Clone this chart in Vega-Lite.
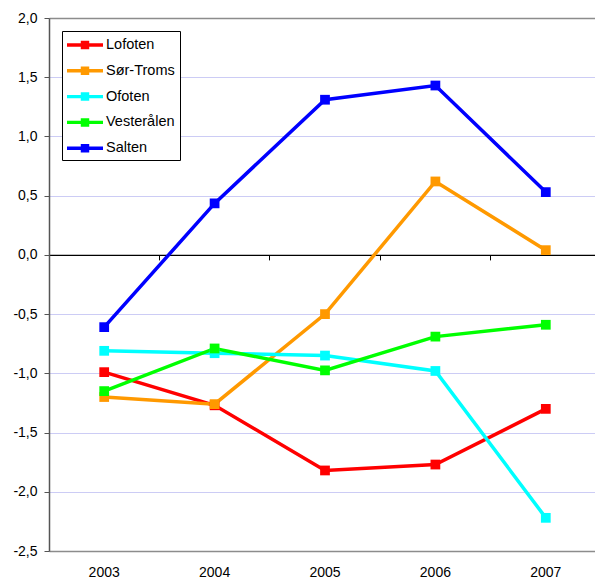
{
  "$schema": "https://vega.github.io/schema/vega-lite/v6.json",
  "width": 552,
  "height": 533,
  "autosize": {"type": "none"},
  "padding": {"left": 49, "top": 18, "right": 0, "bottom": 28},
  "background": "white",
  "config": {
    "font": "Liberation Sans",
    "view": {"stroke": null}
  },
  "data": {
    "values": [
      {"region": "Lofoten", "year": "2003", "value": -0.99},
      {"region": "Lofoten", "year": "2004", "value": -1.27},
      {"region": "Lofoten", "year": "2005", "value": -1.82},
      {"region": "Lofoten", "year": "2006", "value": -1.77},
      {"region": "Lofoten", "year": "2007", "value": -1.30},
      {"region": "Sør-Troms", "year": "2003", "value": -1.20},
      {"region": "Sør-Troms", "year": "2004", "value": -1.26},
      {"region": "Sør-Troms", "year": "2005", "value": -0.50},
      {"region": "Sør-Troms", "year": "2006", "value": 0.62},
      {"region": "Sør-Troms", "year": "2007", "value": 0.04},
      {"region": "Ofoten", "year": "2003", "value": -0.81},
      {"region": "Ofoten", "year": "2004", "value": -0.83},
      {"region": "Ofoten", "year": "2005", "value": -0.85},
      {"region": "Ofoten", "year": "2006", "value": -0.98},
      {"region": "Ofoten", "year": "2007", "value": -2.22},
      {"region": "Vesterålen", "year": "2003", "value": -1.15},
      {"region": "Vesterålen", "year": "2004", "value": -0.79},
      {"region": "Vesterålen", "year": "2005", "value": -0.975},
      {"region": "Vesterålen", "year": "2006", "value": -0.69},
      {"region": "Vesterålen", "year": "2007", "value": -0.59},
      {"region": "Salten", "year": "2003", "value": -0.61},
      {"region": "Salten", "year": "2004", "value": 0.435},
      {"region": "Salten", "year": "2005", "value": 1.31},
      {"region": "Salten", "year": "2006", "value": 1.43},
      {"region": "Salten", "year": "2007", "value": 0.53}
    ]
  },
  "resolve": {"axis": {"x": "independent"}},
  "layer": [
    {
      "mark": {"type": "point", "opacity": 0},
      "encoding": {
        "x": {
          "field": "year", "type": "ordinal",
          "scale": {"type": "band", "paddingInner": 0, "paddingOuter": 0},
          "axis": {
            "orient": "top", "title": null, "labels": false,
            "domain": true, "domainColor": "#8c8c8c", "domainWidth": 1.5,
            "ticks": false, "grid": false, "zindex": 0
          }
        },
        "y": {"field": "value", "type": "quantitative"}
      }
    },
    {
      "mark": {"type": "point", "opacity": 0},
      "encoding": {
        "x": {
          "field": "year", "type": "ordinal",
          "axis": {
            "orient": "bottom", "offset": -296.1, "title": null, "labels": false,
            "domain": true, "domainColor": "black", "domainWidth": 1.2,
            "ticks": true, "tickColor": "black", "tickSize": 5, "tickWidth": 1,
            "bandPosition": 0, "tickExtra": true, "grid": false, "zindex": 0
          }
        },
        "y": {"field": "value", "type": "quantitative"}
      }
    },
    {
      "mark": {
        "type": "line", "strokeWidth": 3.5,
        "point": {"shape": "square", "size": 95, "filled": true, "opacity": 1}
      },
      "encoding": {
        "x": {
          "field": "year", "type": "ordinal",
          "axis": {
            "orient": "bottom", "title": null, "domain": true, "domainColor": "#8c8c8c",
            "domainWidth": 1.5, "ticks": false,
            "grid": false, "labelAngle": 0, "labelFontSize": 14, "labelColor": "black",
            "labelPadding": 14
          }
        },
        "y": {
          "field": "value", "type": "quantitative",
          "scale": {"domain": [-2.5, 2], "nice": false, "zero": false},
          "axis": {
            "title": null, "values": [-2.5, -2, -1.5, -1, -0.5, 0, 0.5, 1, 1.5, 2],
            "labelExpr": "replace(replace(format(datum.value, '.1f'), '.', ','), '−', '-')",
            "labelFontSize": 14, "labelColor": "black", "labelPadding": 7,
            "domain": true, "domainColor": "#555555", "domainWidth": 1.5,
            "ticks": true, "tickColor": "#555555", "tickSize": 5,
            "grid": true, "gridColor": "#ccccf5", "gridWidth": 1
          }
        },
        "color": {
          "field": "region", "type": "nominal",
          "scale": {
            "domain": ["Lofoten", "Sør-Troms", "Ofoten", "Vesterålen", "Salten"],
            "range": ["#ff0000", "#ff9900", "#00ffff", "#00ff00", "#0000ff"]
          },
          "legend": {
            "orient": "none", "legendX": 13, "legendY": 13, "title": null,
            "symbolType": "M-1,-0.19L3,-0.19L3,0.19L-1,0.19Z M0.53,-0.47L1.47,-0.47L1.47,0.47L0.53,0.47Z",
            "symbolSize": 324, "symbolStrokeWidth": 0,
            "labelFontSize": 14.5, "labelColor": "black", "labelOffset": 21,
            "fillColor": "white", "strokeColor": "black", "padding": 5,
            "rowPadding": 9.8,
            "encode": {"symbols": {"update": {"fill": {"scale": "color", "field": "value"}, "opacity": {"value": 1}}}}
          }
        }
      }
    }
  ]
}
